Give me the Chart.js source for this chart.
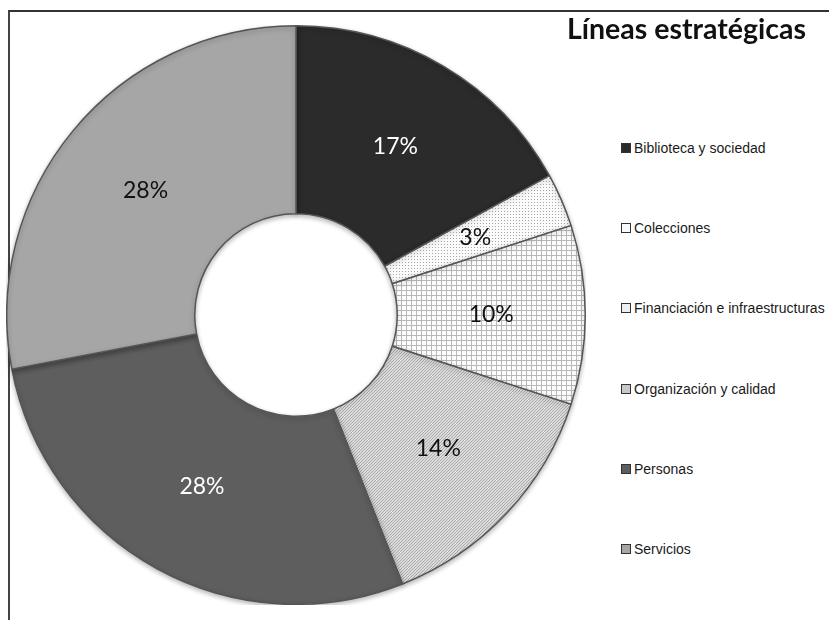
<!DOCTYPE html>
<html>
<head>
<meta charset="utf-8">
<script src="https://cdn.jsdelivr.net/npm/chart.js@4.4.1/dist/chart.umd.min.js"></script>
<style>
  body { margin: 0; width: 829px; height: 620px; background: #fff; position: relative; overflow: hidden; font-family: "Liberation Sans", Arial, sans-serif; }
  #frame { position: absolute; left: 8px; top: 10px; right: -5px; bottom: -5px; border-top: 2px solid #333; border-left: 2px solid #444; }
  #wrap { position: absolute; left: 6px; top: 25px; width: 580px; height: 580px; }
  #title { position: absolute; right: 23px; top: 11px; font: bold 28.5px Lato, sans-serif; color: #111; white-space: nowrap; }
  #legend { position: absolute; left: 621px; top: 0; }
  .item { position: absolute; left: 0; height: 16px; font-size: 14px; color: #1a1a1a; display: flex; align-items: center; white-space: nowrap; }
  .box { width: 8px; height: 8px; border: 1px solid #333; margin-right: 3px; }
</style>
</head>
<body>
<div id="frame"></div>
<div id="wrap"><canvas id="chart"></canvas></div>
<div id="title">Líneas estratégicas</div>
<div id="legend"></div>
<script>
const categories = [
  'Biblioteca y sociedad',
  'Colecciones',
  'Financiación e infraestructuras',
  'Organización y calidad',
  'Personas',
  'Servicios',
];
const shares = [17, 3, 10, 14, 28, 28];
const labelColors = ['#fff', '#111', '#111', '#111', '#fff', '#111'];
const swatchColors = ['#2b2b2b', '#fafafa', '#eeeeee', '#c8c8c8', '#5e5e5e', '#a6a6a6'];

function makePattern(size, draw) {
  const c = document.createElement('canvas');
  c.width = c.height = size;
  const g = c.getContext('2d');
  draw(g, size);
  return g.createPattern(c, 'repeat');
}

const dots = makePattern(3, (g, s) => {
  g.fillStyle = '#fbfbfb';
  g.fillRect(0, 0, s, s);
  g.fillStyle = '#a8a8a8';
  g.fillRect(0, 0, 1, 1);
});

const grid = makePattern(5, (g, s) => {
  g.fillStyle = '#fdfdfd';
  g.fillRect(0, 0, s, s);
  g.fillStyle = '#b8b8b8';
  g.fillRect(0, 0, s, 1);
  g.fillRect(0, 0, 1, s);
});

const hatch = makePattern(3, (g, s) => {
  g.fillStyle = '#dcdcdc';
  g.fillRect(0, 0, s, s);
  g.fillStyle = '#aaaaaa';
  for (let i = 0; i < s; i++) g.fillRect(i, s - 1 - i, 1, 1);
});

const fills = ['#2b2b2b', dots, grid, hatch, '#5e5e5e', '#a6a6a6'];

// soft shadow under the ring
const ringShadow = {
  id: 'ringShadow',
  beforeDatasetsDraw(chart) {
    const ctx = chart.ctx;
    ctx.save();
    ctx.shadowColor = 'rgba(0,0,0,0.28)';
    ctx.shadowBlur = 5;
    ctx.shadowOffsetY = 2;
  },
  afterDatasetsDraw(chart) {
    chart.ctx.restore();
  },
};

const percentLabels = {
  id: 'percentLabels',
  afterDatasetsDraw(chart) {
    const ctx = chart.ctx;
    const meta = chart.getDatasetMeta(0);
    ctx.save();
    ctx.font = '23px Lato, sans-serif';
    ctx.textAlign = 'center';
    ctx.textBaseline = 'middle';
    meta.data.forEach((arc, i) => {
      const p = arc.tooltipPosition();
      ctx.fillStyle = labelColors[i];
      ctx.fillText(shares[i] + '%', p.x, p.y);
    });
    ctx.restore();
  },
};

new Chart(document.getElementById('chart'), {
  type: 'doughnut',
  data: {
    labels: categories,
    datasets: [{
      data: shares,
      backgroundColor: fills,
      borderColor: '#555',
      borderWidth: 1.5,
    }],
  },
  options: {
    responsive: true,
    maintainAspectRatio: false,
    animation: false,
    cutout: '35%',
    layout: { padding: 0 },
    plugins: {
      legend: { display: false },
      tooltip: { enabled: false },
    },
  },
  plugins: [ringShadow, percentLabels],
});

const legend = document.getElementById('legend');
categories.forEach((name, i) => {
  const item = document.createElement('div');
  item.className = 'item';
  item.style.top = (140 + i * 80.2) + 'px';
  const box = document.createElement('span');
  box.className = 'box';
  box.style.background = swatchColors[i];
  item.appendChild(box);
  item.appendChild(document.createTextNode(name));
  legend.appendChild(item);
});
</script>
</body>
</html>
